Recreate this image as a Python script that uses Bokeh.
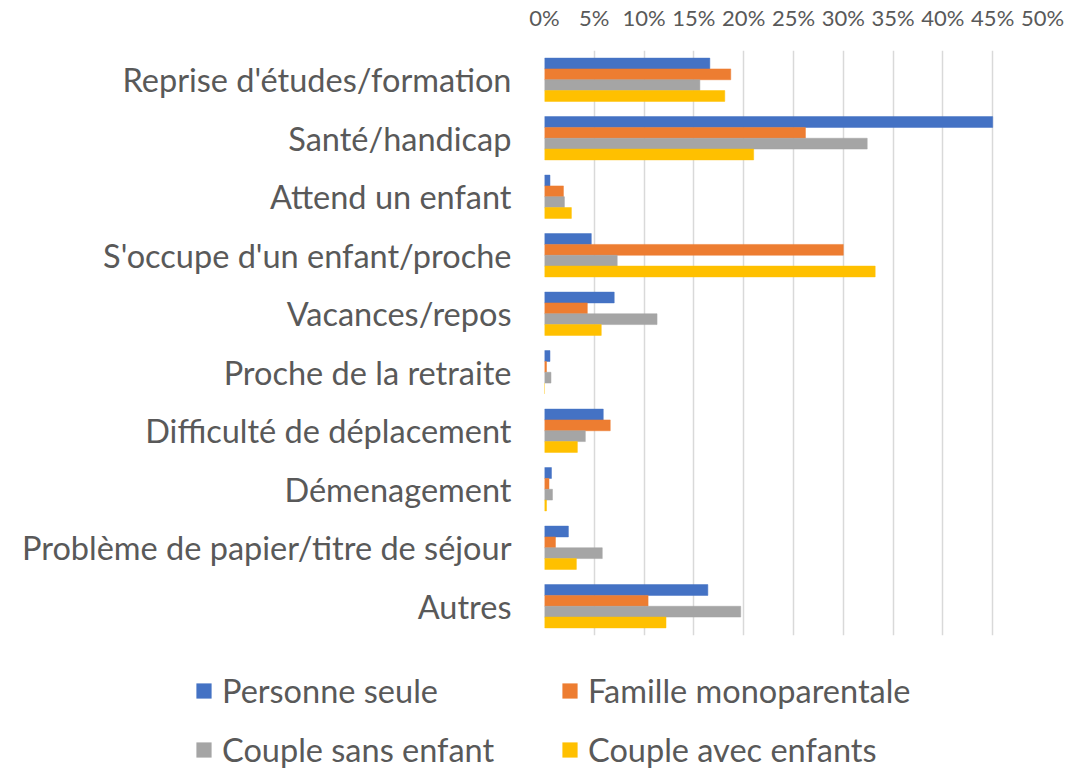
from bokeh.plotting import figure
from bokeh.models import (ColumnDataSource, FactorRange, Range1d, Legend, LegendItem,
                          SingleIntervalTicker, PrintfTickFormatter)
from bokeh.transform import dodge
from bokeh.embed import file_html
from bokeh.resources import INLINE

categories = ["Reprise d'études/formation", "Santé/handicap", "Attend un enfant",
              "S'occupe d'un enfant/proche", "Vacances/repos", "Proche de la retraite",
              "Difficulté de déplacement", "Démenagement",
              "Problème de papier/titre de séjour", "Autres"]
personne_seule = [16.6, 45.0, 0.55, 4.7, 7.0, 0.55, 5.9, 0.7, 2.4, 16.4]
famille_mono = [18.7, 26.2, 1.9, 30.0, 4.3, 0.2, 6.6, 0.45, 1.1, 10.4]
couple_sans = [15.6, 32.4, 2.0, 7.3, 11.3, 0.65, 4.1, 0.8, 5.8, 19.7]
couple_avec = [18.1, 21.0, 2.7, 33.2, 5.7, 0.0, 3.3, 0.2, 3.2, 12.2]
series_names = ["Personne seule", "Famille monoparentale", "Couple sans enfant", "Couple avec enfants"]
colors = ["#4472C4", "#ED7D31", "#A5A5A5", "#FFC000"]

src = ColumnDataSource(dict(cat=categories, s0=personne_seule, s1=famille_mono,
                            s2=couple_sans, s3=couple_avec))

FONT = "Lato"
TXT = "#595959"
W = 1080

p = figure(width=W, height=660, output_backend="svg", toolbar_location=None,
           y_range=FactorRange(*list(reversed(categories)), range_padding=0),
           x_range=Range1d(0, 50), x_axis_location="above",
           min_border_left=544, min_border_right=38, min_border_top=50, min_border_bottom=25)
p.outline_line_color = None

bh = 0.185
offsets = [0.2775, 0.0925, -0.0925, -0.2775]
for i, (off, c) in enumerate(zip(offsets, colors)):
    p.hbar(y=dodge("cat", off, range=p.y_range), right="s%d" % i, left=0, height=bh,
           source=src, fill_color=c, line_color=c, line_width=0.5)

xa = p.xaxis[0]
xa.ticker = SingleIntervalTicker(interval=5)
xa.formatter = PrintfTickFormatter(format="%d%%")
xa.axis_line_color = None
xa.major_tick_line_color = None
xa.minor_tick_line_color = None
xa.major_tick_out = 0
xa.minor_tick_out = 0
xa.major_label_text_font = FONT
xa.major_label_text_font_size = "22px"
xa.major_label_text_color = TXT
xa.major_label_standoff = 20

ya = p.yaxis[0]
ya.axis_line_color = None
ya.major_tick_line_color = None
ya.minor_tick_line_color = None
ya.major_tick_out = 0
ya.minor_tick_out = 0
ya.major_label_text_font = FONT
ya.major_label_text_font_size = "32.5px"
ya.major_label_text_color = TXT
ya.major_label_standoff = 33

p.xgrid.grid_line_color = "#D9D9D9"
p.xgrid.grid_line_width = 1.5
p.ygrid.grid_line_color = None

# legend panel (separate root so its frame spans the full width)
pl = figure(width=W, height=109, output_backend="svg", toolbar_location=None,
            x_range=Range1d(0, 1), y_range=Range1d(0, 1), x_axis_type=None, y_axis_type=None,
            min_border=0)
pl.outline_line_color = None
pl.grid.visible = False
dummies = []
for c in colors:
    dummies.append(pl.hbar(y=[0.5], right=[0], left=[0], height=0,
                           fill_color=c, line_color=None))

items = [LegendItem(label=n, renderers=[r]) for n, r in zip(series_names, dummies)]
leg = Legend(items=items, ncols=2, location=(194, 0), orientation="horizontal",
             label_text_font=FONT, label_text_font_size="32.5px", label_text_color=TXT,
             glyph_width=19, glyph_height=19, label_standoff=9, spacing=20,
             label_width=318, label_height=38, border_line_color=None,
             background_fill_alpha=0, padding=0, margin=0)
pl.add_layout(leg, "center")

open("out.html", "w").write(file_html([p, pl], INLINE))
